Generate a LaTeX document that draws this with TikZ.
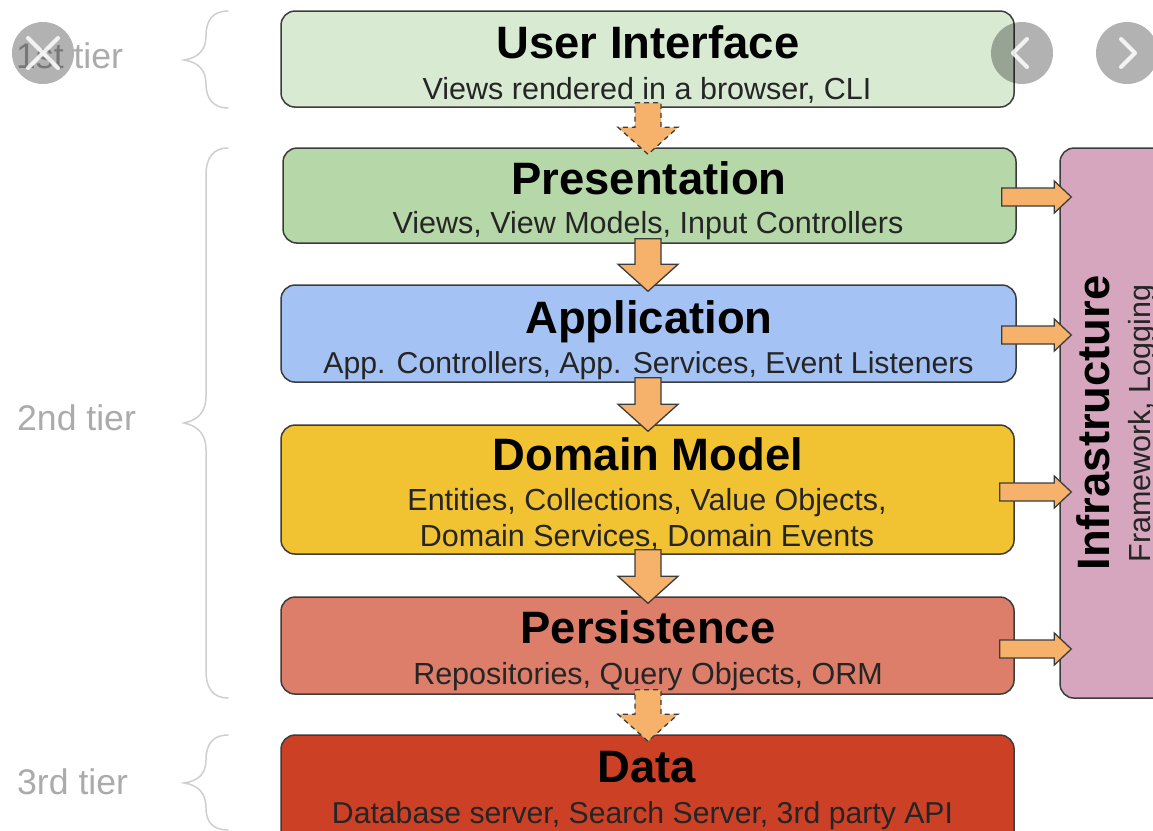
\documentclass[tikz,border=0pt]{standalone}
\usepackage{fontspec}
\setmainfont{Liberation Sans}
\usetikzlibrary{calc}
\definecolor{cui}{HTML}{D9EAD3}
\definecolor{cpres}{HTML}{B6D7A8}
\definecolor{capp}{HTML}{A4C2F4}
\definecolor{cdom}{HTML}{F1C232}
\definecolor{cper}{HTML}{DD7E6B}
\definecolor{cdat}{HTML}{CC4125}
\definecolor{cinf}{HTML}{D5A6BD}
\definecolor{carrow}{HTML}{F6B26B}
\definecolor{cedge}{HTML}{3C3C3C}
\definecolor{ctxt}{HTML}{252525}
\definecolor{ctier}{HTML}{ABABAB}
\definecolor{cbrace}{HTML}{CFCFCF}
\tikzset{
  x=1pt,y=-1pt,
  layer/.style={draw=cedge,line width=1.5pt,rounded corners=14pt,inner sep=0pt,anchor=north west},
  titletext/.style={font=\fontsize{45.4}{50}\selectfont\bfseries,text=black,anchor=base,inner sep=0pt},
  subtext/.style={font=\fontsize{30.5}{35}\selectfont,text=ctxt,anchor=base,inner sep=0pt},
  subtighter/.style={subtext,font=\fontsize{30.2}{35}\selectfont},
  tiertext/.style={font=\fontsize{35.6}{40}\selectfont,text=ctier,anchor=base west,inner sep=0pt},
  brace/.style={draw=cbrace,line width=1.5pt,line cap=round},
  solidarrow/.style={draw=cedge,line width=1.3pt,fill=carrow,line join=miter},
  dasharrow/.style={solidarrow,dash pattern=on 5pt off 4pt},
  roundbtn/.style={circle,fill=black,fill opacity=.3,minimum size=62pt,inner sep=0pt},
  btnmark/.style={draw=white,line width=4pt,line cap=round,line join=round,opacity=.85},
}
\newcommand{\layerbox}[6]{% name, x, y, w, h, colour
  \node[layer,fill=#6,minimum width=#4pt,minimum height=#5pt] (#1) at (#2,#3) {};}
% down block arrow from node #2 to node #3, style #1
\newcommand{\blockdown}[3]{%
  \path let \p1=(#2.south), \p2=(#3.north) in
    [#1] (648-13,\y1+5) -- (648+13,\y1+5) -- (648+13,\y2+20) -- (648+30,\y2+20) -- (648,\y2-7) -- (648-30,\y2+20) -- (648-13,\y2+20) -- cycle;}
% right block arrow from node #1 to node #2 at height #3
\newcommand{\blockright}[3]{%
  \path let \p1=(#1.east), \p2=(#2.west) in
    [solidarrow] (\x1-15,#3-9) -- (\x2-5,#3-9) -- (\x2-5,#3-16) -- (\x2+12,#3) -- (\x2-5,#3+16) -- (\x2-5,#3+9) -- (\x1-15,#3+9) -- cycle;}
\begin{document}
\begin{tikzpicture}
\clip (0,0) rectangle (1153,830);
\fill[white] (0,0) rectangle (1153,830);
% layers
\layerbox{ui}{280.3}{10.3}{733}{96}{cui}
\layerbox{pres}{282.3}{147.3}{733}{95}{cpres}
\layerbox{app}{280.3}{284.3}{735}{97}{capp}
\layerbox{dom}{280.3}{424.3}{733}{129}{cdom}
\layerbox{per}{280.3}{596.3}{733}{97}{cper}
\layerbox{dat}{280.3}{734.3}{733}{110}{cdat}
\layerbox{inf}{1059.3}{147.3}{120}{550}{cinf}
% texts
\node[titletext] (t1) at (648,58.5) {User Interface};
\node[subtext] (s1) at (647,99) {Views rendered in a browser, CLI};
\node[titletext] (t2) at (649,194.5) {Presentation};
\node[subtext] (s2) at (648,233) {Views, View Models, Input Controllers};
\node[titletext] (t3) at (649,333.5) {Application};
\node[subtighter] (s3) at (648.5,373) {App. Controllers, App. Services, Event Listeners};
\node[titletext] (t4) at (648,470) {Domain Model};
\node[subtext] (s4a) at (647,510) {Entities, Collections, Value Objects,};
\node[subtext] (s4b) at (647,546) {Domain Services, Domain Events};
\node[titletext] (t5) at (648,643) {Persistence};
\node[subtext] (s5) at (648,684) {Repositories, Query Objects, ORM};
\node[titletext] (t6) at (647,782) {Data};
\node[subtighter] (s6) at (642.5,823) {Database server, Search Server, 3rd party API};
\node[titletext,rotate=90] (t7) at (1109,423) {Infrastructure};
\node[subtext,rotate=90] (s7) at (1150,423.5) {Framework, Logging};
% tiers
\node[tiertext] (tier1) at (16,68) {1st tier};
\node[tiertext] (tier2) at (17,430) {2nd tier};
\node[tiertext] (tier3) at (17,794) {3rd tier};
\draw[brace] (228,11) .. controls (213,11) and (206,20) .. (206,36) .. controls (206,50) and (198,58) .. (184,60)
  .. controls (198,62) and (206,70) .. (206,84) .. controls (206,98) and (213,108) .. (228,108);
\draw[brace] (228,148) .. controls (213,148) and (206,158) .. (206,175) -- (206,396) .. controls (206,412) and (198,420) .. (184,423)
  .. controls (198,426) and (206,434) .. (206,450) -- (206,671) .. controls (206,688) and (213,698) .. (228,698);
\draw[brace] (228,735) .. controls (213,735) and (206,744) .. (206,760) .. controls (206,774) and (198,781) .. (184,783)
  .. controls (198,785) and (206,793) .. (206,808) .. controls (206,822) and (213,830) .. (228,830);
% down arrows
\blockdown{dasharrow}{ui}{pres}
\blockdown{solidarrow}{pres}{app}
\blockdown{solidarrow}{app}{dom}
\blockdown{solidarrow}{dom}{per}
\blockdown{dasharrow}{per}{dat}
% right arrows
\blockright{pres}{inf}{197}
\blockright{app}{inf}{335}
\blockright{dom}{inf}{492}
\blockright{per}{inf}{649}
% viewer buttons
\node[roundbtn] (close) at (43,53) {};
\draw[btnmark] (close.center) ++(-15,-15) -- ++(30,30) (close.center) ++(15,-15) -- ++(-30,30);
\node[roundbtn] (prev) at (1022,53) {};
\draw[btnmark] (prev.center) ++(5,-14) -- ++(-14,14) -- ++(14,14);
\node[roundbtn] (next) at (1127,53) {};
\draw[btnmark] (next.center) ++(-6,-14) -- ++(14,14) -- ++(-14,14);
\end{tikzpicture}
\end{document}
